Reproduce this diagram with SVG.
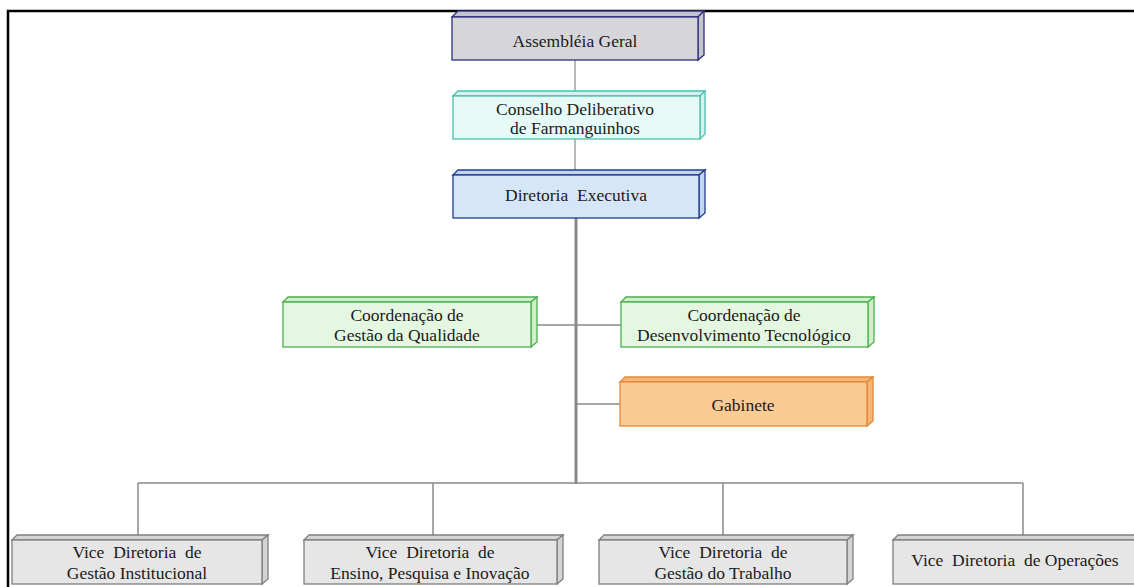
<svg xmlns="http://www.w3.org/2000/svg" width="1134" height="587" viewBox="0 0 1134 587">
  <style>
    .lbl { font-family: "Liberation Serif", "Times New Roman", serif; font-size: 17.5px; fill: #1a1a1a; text-anchor: middle; }
    .face { stroke-width: 1.3; stroke-linejoin: miter; }
    .gray-navy .face { fill: #D6D6DA; stroke: #2E2E7C; }
    .gray-navy .side { fill: #C4C4CC; }
    .cyan .face { fill: #E6FBF8; stroke: #4CBFAE; }
    .cyan .side { fill: #D2F3EE; }
    .blue .face { fill: #D6E6F9; stroke: #223C90; }
    .blue .side { fill: #C3D6F0; }
    .green .face { fill: #E4F7E1; stroke: #4DAF4D; }
    .green .side { fill: #D0EECB; }
    .orange .face { fill: #FBCB93; stroke: #E5883A; }
    .orange .side { fill: #F3B878; }
    .gray .face { fill: #E6E6E6; stroke: #7F7F7F; }
    .gray .side { fill: #D4D4D4; }
    .conn { stroke: #8A8A8A; fill: none; }
  </style>

  <!-- page frame -->
  <path d="M8,587 V11 H1134" fill="none" stroke="#000" stroke-width="2.5"/>

  <!-- connectors -->
  <g id="connectors">
    <line class="conn" x1="575" y1="60" x2="575" y2="92" stroke-width="1.2"/>
    <line class="conn" x1="575" y1="139" x2="575" y2="171" stroke-width="1.2"/>
    <line class="conn" x1="576" y1="218" x2="576" y2="484" stroke-width="3"/>
    <line class="conn" x1="531" y1="325" x2="621" y2="325" stroke-width="1.5"/>
    <line class="conn" x1="576" y1="404" x2="620" y2="404" stroke-width="1.5"/>
    <line class="conn" x1="138" y1="483" x2="1023" y2="483" stroke-width="1.5"/>
    <line class="conn" x1="138" y1="483" x2="138" y2="536" stroke-width="1.5"/>
    <line class="conn" x1="433" y1="483" x2="433" y2="536" stroke-width="1.5"/>
    <line class="conn" x1="723" y1="483" x2="723" y2="536" stroke-width="1.5"/>
    <line class="conn" x1="1023" y1="483" x2="1023" y2="536" stroke-width="1.5"/>
  </g>

  <!-- Assembléia Geral -->
  <g id="assembleia" class="gray-navy">
    <polygon class="face side" points="452,17 458,11 704,11 698,17"/>
    <polygon class="face side" points="698,17 704,11 704,55 698,60"/>
    <rect class="face" x="452" y="17" width="246" height="43"/>
    <text class="lbl" x="575" y="47">Assembléia Geral</text>
  </g>

  <!-- Conselho Deliberativo -->
  <g id="conselho" class="cyan">
    <polygon class="face side" points="453,96 458,91 705,91 700,96"/>
    <polygon class="face side" points="700,96 705,91 705,134 700,139"/>
    <rect class="face" x="453" y="96" width="247" height="43"/>
    <text class="lbl" x="575" y="115">Conselho Deliberativo</text>
    <text class="lbl" x="575" y="134">de Farmanguinhos</text>
  </g>

  <!-- Diretoria Executiva -->
  <g id="diretoria" class="blue">
    <polygon class="face side" points="453,175 458,170 705,170 699,175"/>
    <polygon class="face side" points="699,175 705,170 705,213 699,218"/>
    <rect class="face" x="453" y="175" width="246" height="43"/>
    <text class="lbl" x="576" y="201" xml:space="preserve">Diretoria  Executiva</text>
  </g>

  <!-- Coordenação de Gestão da Qualidade -->
  <g id="coord-qualidade" class="green">
    <polygon class="face side" points="283,302 288,297 537,297 531,302"/>
    <polygon class="face side" points="531,302 537,297 537,342 531,347"/>
    <rect class="face" x="283" y="302" width="248" height="45"/>
    <text class="lbl" x="407" y="321">Coordenação de</text>
    <text class="lbl" x="407" y="341">Gestão da Qualidade</text>
  </g>

  <!-- Coordenação de Desenvolvimento Tecnológico -->
  <g id="coord-desenvolvimento" class="green">
    <polygon class="face side" points="621,302 626,297 874,297 868,302"/>
    <polygon class="face side" points="868,302 874,297 874,342 868,347"/>
    <rect class="face" x="621" y="302" width="247" height="45"/>
    <text class="lbl" x="744" y="321">Coordenação de</text>
    <text class="lbl" x="744" y="341">Desenvolvimento Tecnológico</text>
  </g>

  <!-- Gabinete -->
  <g id="gabinete" class="orange">
    <polygon class="face side" points="620,382 625,377 873,377 867,382"/>
    <polygon class="face side" points="867,382 873,377 873,421 867,426"/>
    <rect class="face" x="620" y="382" width="247" height="44"/>
    <text class="lbl" x="743" y="411">Gabinete</text>
  </g>

  <!-- Vice Diretoria de Gestão Institucional -->
  <g id="vd-institucional" class="gray">
    <polygon class="face side" points="12,540 17,535 268,535 262,540"/>
    <polygon class="face side" points="262,540 268,535 268,579 262,584"/>
    <rect class="face" x="12" y="540" width="250" height="44"/>
    <text class="lbl" x="137" y="558" xml:space="preserve">Vice  Diretoria  de</text>
    <text class="lbl" x="137" y="579">Gestão Institucional</text>
  </g>

  <!-- Vice Diretoria de Ensino, Pesquisa e Inovação -->
  <g id="vd-ensino" class="gray">
    <polygon class="face side" points="304,540 309,535 563,535 557,540"/>
    <polygon class="face side" points="557,540 563,535 563,579 557,584"/>
    <rect class="face" x="304" y="540" width="253" height="44"/>
    <text class="lbl" x="430" y="558" xml:space="preserve">Vice  Diretoria  de</text>
    <text class="lbl" x="430" y="579">Ensino, Pesquisa e Inovação</text>
  </g>

  <!-- Vice Diretoria de Gestão do Trabalho -->
  <g id="vd-trabalho" class="gray">
    <polygon class="face side" points="599,540 604,535 853,535 847,540"/>
    <polygon class="face side" points="847,540 853,535 853,579 847,584"/>
    <rect class="face" x="599" y="540" width="248" height="44"/>
    <text class="lbl" x="723" y="558" xml:space="preserve">Vice  Diretoria  de</text>
    <text class="lbl" x="723" y="579">Gestão do Trabalho</text>
  </g>

  <!-- Vice Diretoria de Operações -->
  <g id="vd-operacoes" class="gray">
    <polygon class="face side" points="893,540 898,535 1144,535 1138,540"/>
    <rect class="face" x="893" y="540" width="245" height="44"/>
    <text class="lbl" x="1015" y="566" xml:space="preserve">Vice  Diretoria  de Operações</text>
  </g>
</svg>
